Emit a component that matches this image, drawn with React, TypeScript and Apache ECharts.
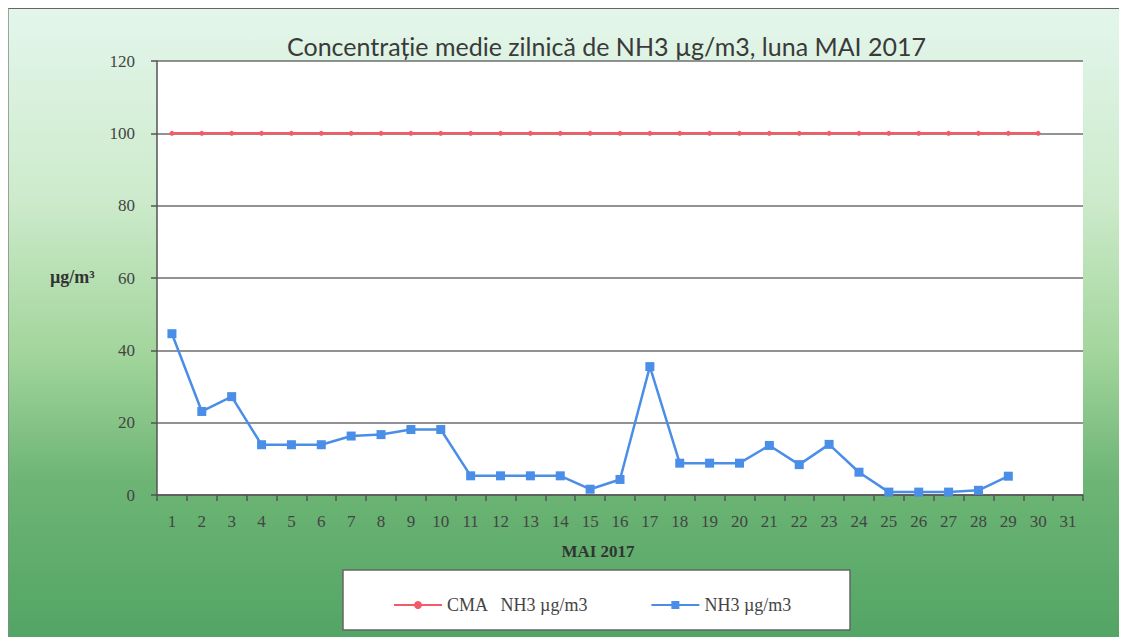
import React, { useEffect, useRef } from "react";
import * as echarts from "echarts";

const days = Array.from({ length: 31 }, (_, i) => String(i + 1));
const cmaValues = [
  100, 100, 100, 100, 100, 100, 100, 100, 100, 100,
  100, 100, 100, 100, 100, 100, 100, 100, 100, 100,
  100, 100, 100, 100, 100, 100, 100, 100, 100, 100,
];
const nh3Values = [
  44.6, 23.1, 27.2, 13.9, 13.9, 13.9, 16.3, 16.7, 18.1, 18.1,
  5.3, 5.3, 5.3, 5.3, 1.6, 4.3, 35.5, 8.8, 8.8, 8.8,
  13.7, 8.4, 14.0, 6.3, 0.8, 0.8, 0.8, 1.3, 5.2,
];
const seriesNames = ["CMA   NH3 µg/m3", "NH3 µg/m3"];
const titleText = "Concentrație medie zilnică de NH3 µg/m3, luna MAI 2017";
const xAxisTitle = "MAI 2017";
const yAxisTitle = "µg/m³";

export default function App() {
  const ref = useRef<HTMLDivElement>(null);
  useEffect(() => {
    if (!ref.current) return;
    const chart = echarts.init(ref.current, null, { renderer: "svg" });
    const serif = "'Liberation Serif', 'DejaVu Serif', serif";
    chart.setOption({
      animation: false,
      backgroundColor: {
        type: "linear",
        x: 0,
        y: 0,
        x2: 0,
        y2: 1,
        colorStops: [
          { offset: 0, color: "#e4f6ec" },
          { offset: 0.3, color: "#cdebcc" },
          { offset: 0.55, color: "#a2d59b" },
          { offset: 0.75, color: "#6db575" },
          { offset: 1, color: "#53a565" },
        ],
      },
      title: {
        text: titleText,
        left: 274,
        top: 20,
        textStyle: {
          fontFamily: "Lato, 'Open Sans', sans-serif",
          fontSize: 25,
          fontWeight: "normal",
          color: "#3a3a3a",
        },
      },
      grid: {
        left: 149,
        right: 44,
        top: 53,
        bottom: 142,
        show: true,
        backgroundColor: "#ffffff",
        borderWidth: 0,
      },
      legend: {
        left: 380,
        top: 583,
        itemWidth: 48,
        itemHeight: 10,
        itemGap: 62,
        textStyle: { fontFamily: serif, fontSize: 18, color: "#444" },
        data: seriesNames,
      },
      xAxis: {
        type: "category",
        data: days,
        boundaryGap: true,
        axisLine: { lineStyle: { color: "#555", width: 1.5 } },
        axisTick: { show: true, length: 6, interval: 0, lineStyle: { color: "#555", width: 1.5 } },
        axisLabel: { interval: 0, margin: 18, fontFamily: serif, fontSize: 17, color: "#444" },
      },
      yAxis: {
        type: "value",
        min: 0,
        max: 120,
        interval: 20,
        axisLine: { show: true, lineStyle: { color: "#555", width: 1.5 } },
        axisTick: { show: true, length: 6, lineStyle: { color: "#555", width: 1.5 } },
        axisLabel: { margin: 22, fontFamily: serif, fontSize: 17, color: "#444" },
        splitLine: { show: true, lineStyle: { color: "#6e6e6e", width: 1.5 } },
      },
      graphic: [
        {
          type: "line",
          shape: { x1: 0, y1: 0, x2: 1119, y2: 0 },
          style: { stroke: "#666", lineWidth: 2 },
        },
        {
          type: "line",
          shape: { x1: 0, y1: 0, x2: 0, y2: 629 },
          style: { stroke: "#888", lineWidth: 1.5 },
        },
        {
          type: "text",
          x: 42,
          y: 260,
          style: { text: yAxisTitle, font: "bold 18px " + serif, fill: "#333" },
        },
        {
          type: "text",
          x: 590,
          y: 543,
          style: { text: xAxisTitle, font: "bold 17px " + serif, fill: "#333", textAlign: "center", textVerticalAlign: "middle" },
        },
        {
          type: "rect",
          z: 0,
          shape: { x: 335, y: 562, width: 507, height: 60 },
          style: { fill: "#ffffff", stroke: "#666", lineWidth: 1.5 },
        },
      ],
      series: [
        {
          name: seriesNames[0],
          type: "line",
          data: cmaValues,
          symbol: "circle",
          symbolSize: 5,
          lineStyle: { color: "#f25c68", width: 2.5 },
          itemStyle: { color: "#f25c68" },
          z: 3,
        },
        {
          name: seriesNames[1],
          type: "line",
          data: nh3Values,
          symbol: "rect",
          symbolSize: 9,
          lineStyle: { color: "#4a8ee8", width: 2.5 },
          itemStyle: { color: "#4a8ee8" },
          z: 4,
        },
      ],
    });
    return () => chart.dispose();
  }, []);
  return <div ref={ref} style={{ width: 1119, height: 629 }} />;
}
